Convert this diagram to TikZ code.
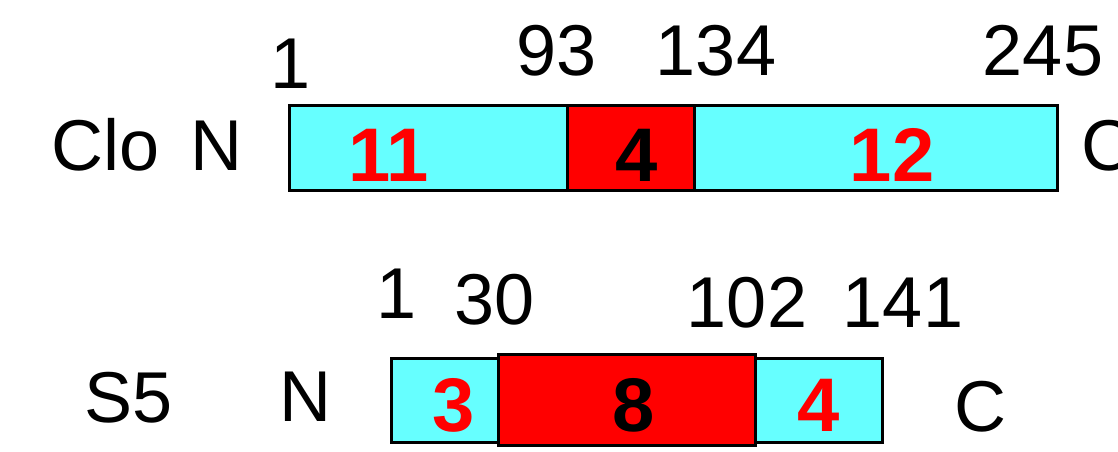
\documentclass[tikz,border=0pt]{standalone}
\usepackage{fontspec}
\setmainfont{Liberation Sans}
\definecolor{cyanfill}{HTML}{66FFFF}
\definecolor{redfill}{HTML}{FF0000}
\begin{document}
\begin{tikzpicture}[x=1pt,y=-1pt,
  seg/.style={draw=black,line width=3pt},
  num/.style={anchor=base,inner sep=0pt,font=\fontsize{72}{72}\selectfont},
  dom/.style={anchor=base,inner sep=0pt,font=\fontsize{76}{76}\selectfont\bfseries},
]
\useasboundingbox (0,0) rectangle (1118,452);
\fill[white] (0,0) rectangle (1118,452);
% Clo
\filldraw[seg,fill=cyanfill] (289,105) rectangle (567,190);
\filldraw[seg,fill=cyanfill] (694,105) rectangle (1057,190);
\filldraw[seg,fill=redfill] (567,105) rectangle (694,190);
\node[dom,text=redfill] (d11) at (389,181) {11};
\node[dom,text=black] (d4a) at (637,181) {4};
\node[dom,text=redfill] (d12) at (892,181) {12};
\node[num] (t1) at (291,88) {1};
\node[num] (t93) at (557,75) {93};
\node[num] (t134) at (716,75) {134};
\node[num] (t245) at (1043,75) {245};
\node[num] (clo) at (106,170) {Clo};
\node[num] (cloN) at (216,170) {N};
\node[num,anchor=base west] (cloC) at (1081,170) {C};
% S5
\filldraw[seg,fill=cyanfill] (391,358) rectangle (498,442);
\filldraw[seg,fill=cyanfill] (755,358) rectangle (882,442);
\filldraw[seg,fill=redfill] (498,354) rectangle (755,445);
\node[dom,text=redfill] (d3) at (454,431) {3};
\node[dom,text=black] (d8) at (634,431) {8};
\node[dom,text=redfill] (d4b) at (819,431) {4};
\node[num] (s1) at (397,318) {1};
\node[num] (s30) at (495,324) {30};
\node[num] (s102) at (747,327) {102};
\node[num] (s141) at (903,327) {141};
\node[num] (s5) at (129,422) {S5};
\node[num] (s5N) at (305,421) {N};
\node[num] (s5C) at (980,431) {C};
\end{tikzpicture}
\end{document}
